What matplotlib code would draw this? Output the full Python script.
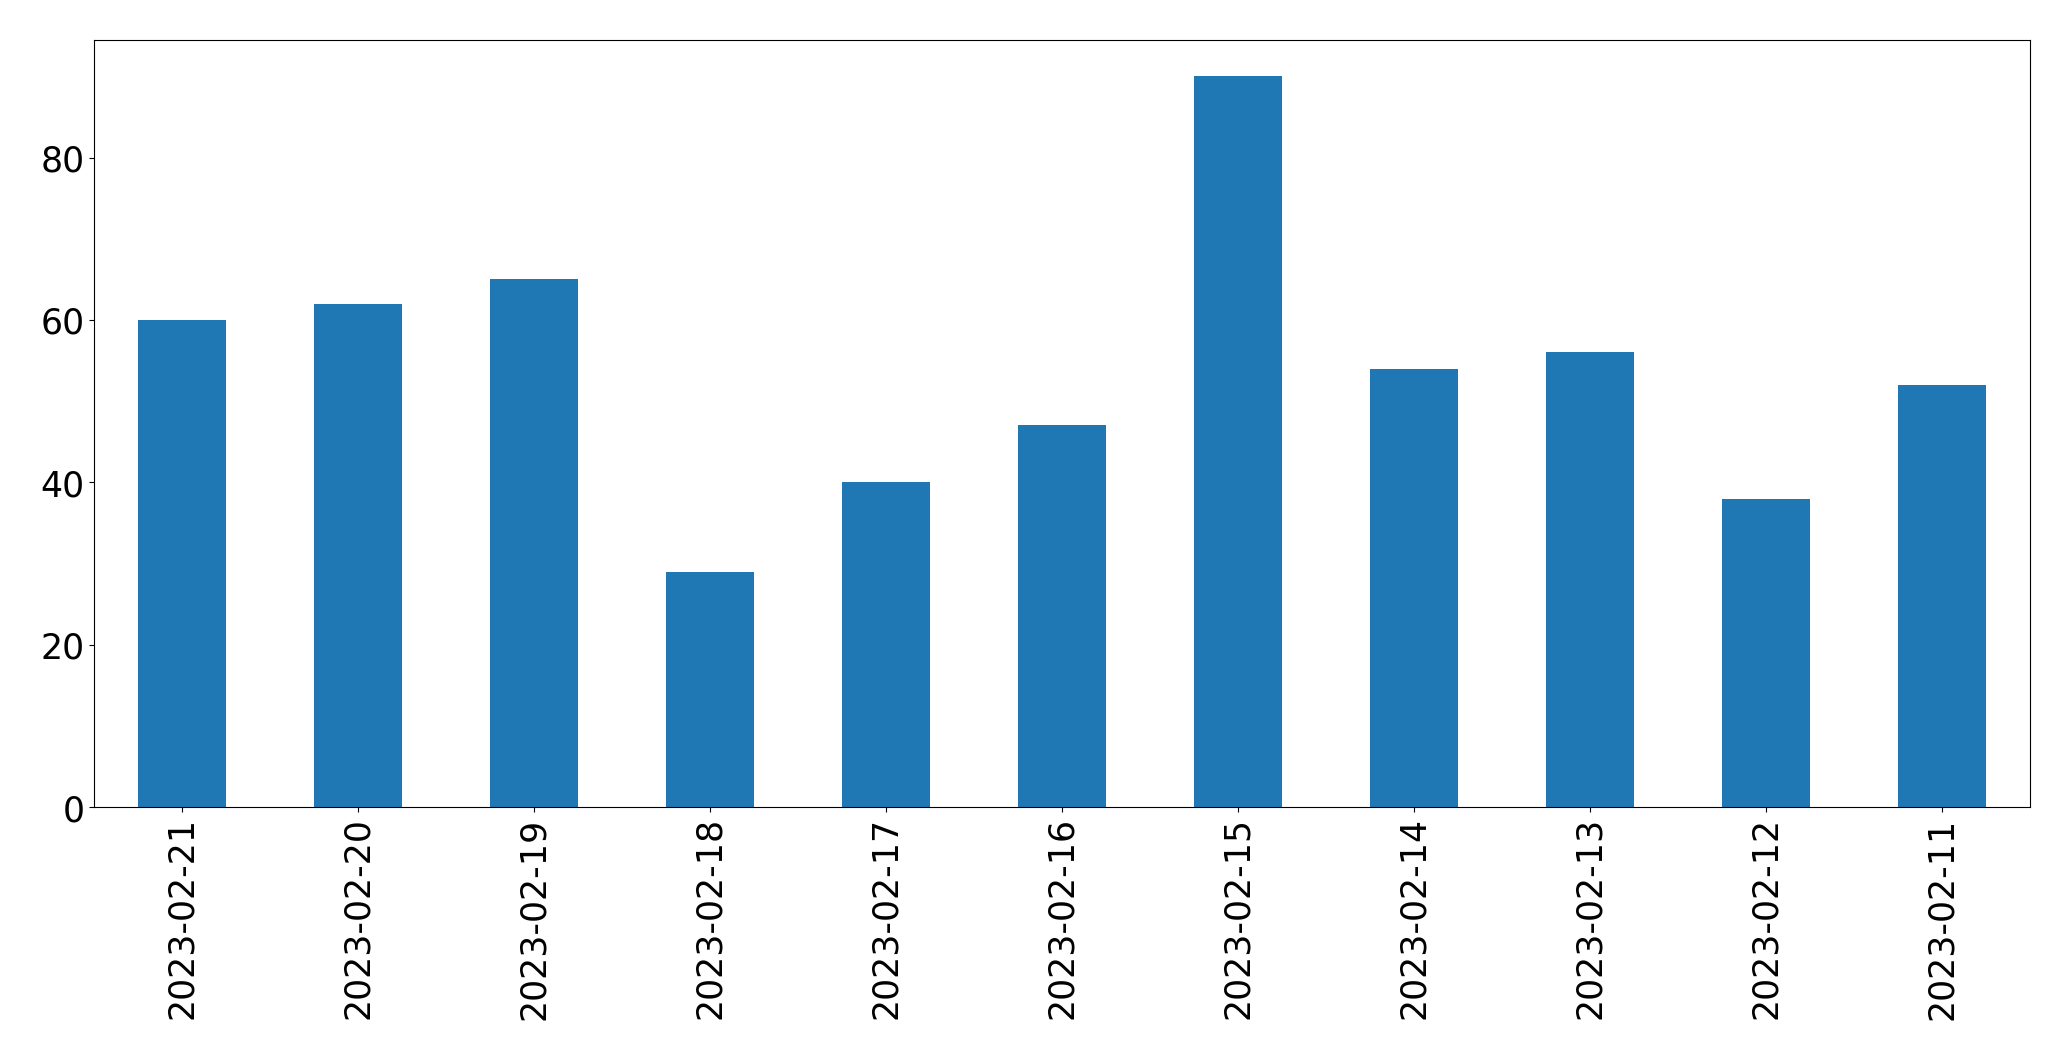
import matplotlib
matplotlib.use("Agg")
import matplotlib.pyplot as plt
import pandas as pd

# daily counts, newest first (as in the original)
dates = ['2023-02-21', '2023-02-20', '2023-02-19', '2023-02-18', '2023-02-17',
         '2023-02-16', '2023-02-15', '2023-02-14', '2023-02-13', '2023-02-12',
         '2023-02-11']
counts = [60, 62, 65, 29, 40, 47, 90, 54, 56, 38, 52]

series = pd.Series(counts, index=dates)

fig = plt.figure(figsize=(20.71, 10.605), dpi=100)
ax = fig.add_axes([0.0454, 0.2385, 0.9346, 0.7235])
series.plot(kind='bar', ax=ax, color='#1f77b4', width=0.5)
ax.tick_params(axis='both', labelsize=25)
ax.set_yticks([0, 20, 40, 60, 80])
fig.savefig("out.png", dpi=100)
